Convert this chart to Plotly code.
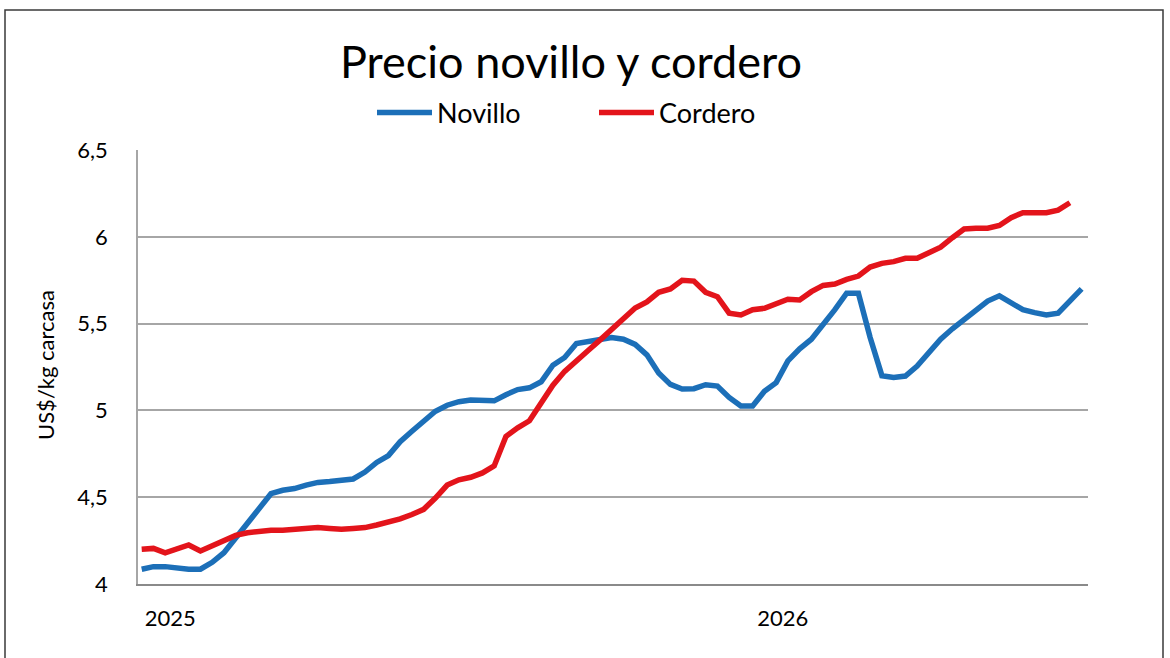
import plotly.graph_objects as go
import pandas as pd

# Weekly observations (Dec 2024 - Jun 2026)
dates = pd.date_range("2024-12-15", periods=81, freq="7D")

novillo = [4.085, 4.10, 4.10, 4.09, 4.085, 4.085, 4.125, 4.18, 4.265, 4.345,
           4.425, 4.52, 4.54, 4.55, 4.57, 4.585, 4.59, 4.595, 4.605, 4.645,
           4.70, 4.74, 4.82, 4.88, 4.94, 4.995, 5.03, 5.05, 5.06, 5.06,
           5.055, 5.09, 5.12, 5.13, 5.165, 5.26, 5.305, 5.385, 5.395, 5.41,
           5.42, 5.41, 5.38, 5.32, 5.215, 5.15, 5.123, 5.125, 5.148, 5.14,
           5.075, 5.025, 5.025, 5.11, 5.16, 5.285, 5.355, 5.41, 5.49, 5.58,
           5.675, 5.675, 5.42, 5.20, 5.19, 5.198, 5.255, 5.335, 5.41, 5.47,
           5.525, 5.57, 5.63, 5.66, 5.62, 5.58, 5.563, 5.55, 5.56, 5.626,
           5.70]

cordero = [4.20, 4.205, 4.18, 4.205, 4.225, 4.19, 4.22, 4.245, 4.28, 4.295,
           4.305, 4.31, 4.31, 4.315, 4.32, 4.325, 4.32, 4.315, 4.32, 4.325,
           4.34, 4.355, 4.375, 4.40, 4.43, 4.495, 4.57, 4.60, 4.615, 4.64,
           4.68, 4.85, 4.90, 4.94, 5.04, 5.145, 5.225, 5.29, 5.345, 5.405,
           5.47, 5.53, 5.59, 5.625, 5.68, 5.70, 5.75, 5.745, 5.68, 5.655,
           5.56, 5.55, 5.58, 5.588, 5.61, 5.64, 5.636, 5.684, 5.72, 5.728,
           5.755, 5.774, 5.826, 5.847, 5.857, 5.876, 5.876, 5.912, 5.94, 5.995,
           6.045, 6.049, 6.049, 6.065, 6.11, 6.139, 6.139, 6.139, 6.154, 6.196,
           None]

y_tickvals = [4, 4.5, 5, 5.5, 6, 6.5]
y_ticktext = ["4", "4,5", "5", "5,5", "6", "6,5"]
x_tickvals = ["2025-01-01", "2026-01-01"]
x_ticktext = ["2025", "2026"]

FONT = "Lato, 'Open Sans', sans-serif"
BLUE = "#1C6FB8"
RED = "#E3141B"

fig = go.Figure()
fig.add_trace(go.Scatter(x=dates, y=novillo, name="Novillo", mode="lines",
                         line=dict(color=BLUE, width=5.5)))
fig.add_trace(go.Scatter(x=dates, y=cordero, name="Cordero", mode="lines",
                         line=dict(color=RED, width=5.5)))

x0 = dates[0] - pd.Timedelta(days=2.2)
x1 = dates[-1] + pd.Timedelta(days=3.8)

fig.update_layout(
    width=1170, height=658,
    margin=dict(l=138, r=82, t=150, b=74, autoexpand=False),
    paper_bgcolor="white", plot_bgcolor="white",
    font=dict(family=FONT, color="#000000"),
    title=dict(text="Precio novillo y cordero", x=571 / 1170, xref="container",
               xanchor="center", y=1 - 62 / 658, yref="container", yanchor="middle",
               font=dict(size=45, family=FONT, color="#000000")),
    legend=dict(orientation="h", x=372 / 1170, xref="container", xanchor="left",
                y=1 - 113 / 658, yref="container", yanchor="middle",
                font=dict(size=27, family=FONT, color="#000000"),
                entrywidth=152, entrywidthmode="pixels", itemwidth=55,
                bgcolor="rgba(0,0,0,0)"),
    showlegend=True,
)

fig.update_xaxes(type="date", range=[x0, x1], tickvals=x_tickvals, ticktext=x_ticktext,
                 showgrid=False, showline=True, linecolor="#8A8A8A", linewidth=2,
                 ticks="", tickfont=dict(size=22, family=FONT, color="#000000"),
                 ticklabelstandoff=14, zeroline=False)
fig.update_yaxes(range=[4, 6.5], tickvals=y_tickvals, ticktext=y_ticktext,
                 showgrid=True, gridcolor="#A6A6A6", gridwidth=1.5,
                 showline=True, linecolor="#A6A6A6", linewidth=1.5,
                 ticks="", tickfont=dict(size=22, family=FONT, color="#000000"),
                 ticklabelstandoff=24, zeroline=False)

fig.add_annotation(text="US$/kg carcasa", xref="paper", yref="paper",
                   x=(45 - 138) / 950, y=(584 - 365) / 434, textangle=-90,
                   showarrow=False, xanchor="center", yanchor="middle",
                   font=dict(size=22, family=FONT, color="#000000"))

# chart-area border
fig.add_shape(type="rect", xref="paper", yref="paper",
              x0=(5 - 138) / 950, x1=(1163 - 138) / 950,
              y0=(584 - 670) / 434, y1=(584 - 10) / 434,
              line=dict(color="#3A3A3A", width=1.5), fillcolor="rgba(0,0,0,0)",
              layer="below")

fig.write_html("out.html")
